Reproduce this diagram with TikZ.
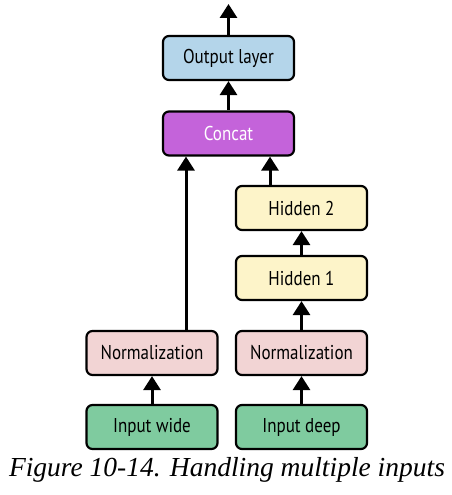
\documentclass[tikz,border=0pt]{standalone}
\usepackage{fontspec}
\setmainfont{Liberation Serif}
\newfontfamily\boxfont[FakeStretch=0.85]{PT Sans}
\usetikzlibrary{arrows.meta}
\definecolor{cblue}{HTML}{B4D5EA}
\definecolor{cpurple}{HTML}{C463DA}
\definecolor{cyellow}{HTML}{FDF4C9}
\definecolor{cpink}{HTML}{F2D4D4}
\definecolor{cgreen}{HTML}{7FCB9F}
\tikzset{
  layerbox/.style={draw=black, line width=2.2pt, rounded corners=6pt, minimum width=131pt, minimum height=44pt, inner sep=0pt, font=\boxfont\fontsize{20}{20}\selectfont},
  conn/.style={line width=3pt, -{Triangle[width=17pt,length=14pt]}}
}
\begin{document}
\begin{tikzpicture}[x=1pt,y=-1pt]
\useasboundingbox (0,0) rectangle (452,495);
\node[layerbox, fill=cblue] (out) at (228.5,58) {Output layer};
\node[layerbox, fill=cpurple, text=white] (concat) at (228.5,133.5) {Concat};
\node[layerbox, fill=cyellow] (h2) at (301.5,208) {Hidden 2};
\node[layerbox, fill=cyellow] (h1) at (301.5,278) {Hidden 1};
\node[layerbox, fill=cpink] (nl) at (152,353) {Normalization};
\node[layerbox, fill=cpink] (nr) at (301.5,353) {Normalization};
\node[layerbox, fill=cgreen] (iw) at (152,427) {Input wide};
\node[layerbox, fill=cgreen] (id) at (301.5,427) {Input deep};
\coordinate (top) at (228.5,4);
\node[font=\itshape\fontsize{27.5}{27.5}\selectfont] (cap) at (227,470) {Figure 10-14. Handling multiple inputs};
\draw[conn] (out.north) -- (top);
\draw[conn] (concat.north) -- (out.south);
\draw[conn] (iw.north) -- (nl.south);
\draw[conn] (id.north) -- (nr.south);
\draw[conn] (nr.north) -- (h1.south);
\draw[conn] (h1.north) -- (h2.south);
\draw[conn] (nl.north -| 186,0) -- (concat.south -| 186,0);
\draw[conn] (h2.north -| 270,0) -- (concat.south -| 270,0);
\end{tikzpicture}
\end{document}
